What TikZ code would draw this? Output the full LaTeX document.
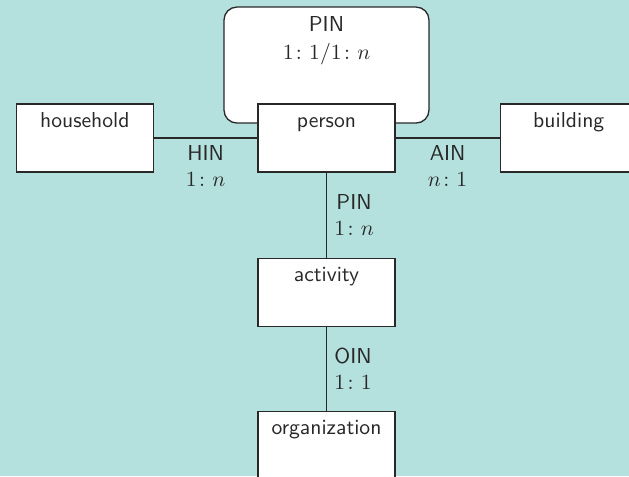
\documentclass[tikz,border=0pt]{standalone}
\usepackage{amsmath}
\usetikzlibrary{positioning}
\definecolor{bgteal}{RGB}{180,225,221}
\definecolor{inkgray}{RGB}{40,40,40}
\tikzstyle{entity}=[rectangle,semithick,draw=inkgray,fill=white,
minimum width=2.226cm,minimum height=1.105cm]
\tikzstyle{selfloop}=[rectangle,rounded corners=0.21cm,semithick,draw=inkgray,
fill=white,minimum width=3.331cm,minimum height=1.885cm]
\tikzstyle{rel}=[font=\sffamily,align=center,text=inkgray]
\tikzstyle{ename}=[anchor=base,yshift=-0.39cm,font=\sffamily,text=inkgray]
\begin{document}
\begin{tikzpicture}[node distance=1.706cm and 1.706cm]
            % background
            \fill[bgteal] (-5.306,2.243) rectangle (4.916,-5.493);
            \useasboundingbox (-5.306,2.243) rectangle (4.916,-5.493);

            % self relation of person
            \node[selfloop] (pinloop) at (0,1.186) {};
            \node[rel, below=1pt of pinloop.north] (pinself) {PIN\\[1pt]$1\colon 1/1\colon n$};

            % entities
            \node[entity, label={[ename]north:person}] (person) at (0,0) {};
            \node[entity, left=1.68cm of person, label={[ename]north:household}] (household) {};
            \node[entity, right=1.69cm of person, label={[ename]north:building}] (building) {};
            \node[entity, below=1.381cm of person, label={[ename]north:activity}] (activity) {};
            \node[entity, below=1.365cm of activity, label={[ename]north:organization}] (organization) {};

            % relations
            \path[semithick,draw=inkgray] (household) edge node[rel,below] {HIN\\[0pt]$1\colon n$} (person);
            \path[semithick,draw=inkgray] (person) edge node[rel,below] {AIN\\[0pt]$n\colon 1$} (building);
            \path[semithick,draw=inkgray] (person) edge node[rel,right] {PIN\\[0pt]$1\colon n$} (activity);
            \path[semithick,draw=inkgray] (activity) edge node[rel,right] {OIN\\[0pt]$1\colon 1$} (organization);

        \end{tikzpicture}
\end{document}
